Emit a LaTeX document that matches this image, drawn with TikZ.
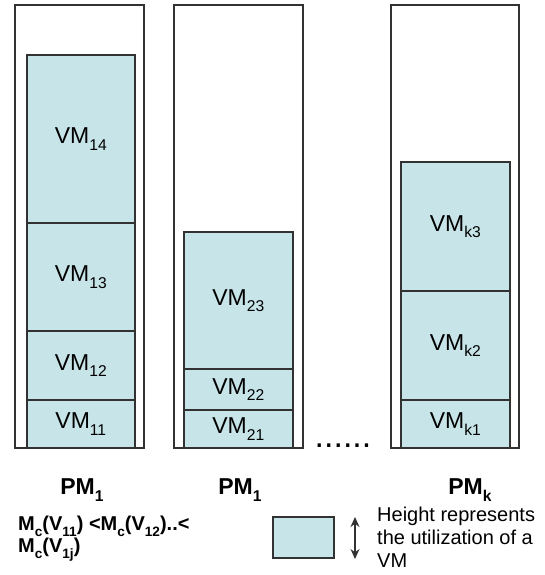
\documentclass[tikz,border=0pt]{standalone}
\usepackage{fontspec}
\setmainfont{Liberation Sans}
\usetikzlibrary{arrows.meta}
\definecolor{vmblue}{RGB}{199,228,232}
\definecolor{edgegray}{RGB}{50,50,50}
\newcommand{\subs}[1]{\raisebox{-0.28em}{\fontsize{0.68em}{0.7em}\selectfont #1}}
\tikzset{pm/.style={draw=edgegray, line width=1.6pt, fill=white, inner sep=0mm, anchor=south west},
         vm/.style={draw=edgegray, line width=1.6pt, fill=vmblue, inner sep=0mm, anchor=south west,
                    font=\fontsize{23}{26}\selectfont},
         pmlabel/.style={font=\fontsize{23}{26}\selectfont\bfseries},
         key/.style={font=\fontsize{20}{23}\selectfont, align=left, anchor=north west, inner sep=0mm}}

\begin{document}
\begin{tikzpicture}[x=1pt, y=-1pt]
    \useasboundingbox (0,0) rectangle (544,575);

    % first machine
    \node (pm1) at (14,449) [pm, minimum width=129pt, minimum height=443pt] {};
    \node (vm14) at (26,224) [vm, minimum width=108pt, minimum height=168pt] {VM\subs{14}};
    \node (vm13) at (26,332) [vm, minimum width=108pt, minimum height=108pt] {VM\subs{13}};
    \node (vm12) at (26,401) [vm, minimum width=108pt, minimum height=69pt] {VM\subs{12}};
    \node (vm11) at (26,449) [vm, minimum width=108pt, minimum height=48pt] {VM\subs{11}};

    % second machine
    \node (pm2) at (173,449) [pm, minimum width=129pt, minimum height=443pt] {};
    \node (vm23) at (183,370) [vm, minimum width=109pt, minimum height=137pt] {VM\subs{23}};
    \node (vm22) at (183,411) [vm, minimum width=109pt, minimum height=41pt] {VM\subs{22}};
    \node (vm21) at (183,449) [vm, minimum width=109pt, minimum height=38pt] {VM\subs{21}};

    % last machine
    \node (pmk) at (390,449) [pm, minimum width=128pt, minimum height=443pt] {};
    \node (vmk3) at (400,292) [vm, minimum width=109pt, minimum height=129pt] {VM\subs{k3}};
    \node (vmk2) at (400,401) [vm, minimum width=109pt, minimum height=109pt] {VM\subs{k2}};
    \node (vmk1) at (400,449) [vm, minimum width=109pt, minimum height=48pt] {VM\subs{k1}};

    \node (dots) at (343,446) [font=\fontsize{34}{36}\selectfont] {......};

    \node (l1) at (82,490) [pmlabel] {PM\subs{1}};
    \node (l2) at (240,490) [pmlabel] {PM\subs{1}};
    \node (lk) at (470,490) [pmlabel] {PM\subs{k}};

    % legend
    \node (order) at (18,516) [key, font=\fontsize{20}{22}\selectfont\bfseries]
        {M\subs{c}(V\subs{11}) <M\subs{c}(V\subs{12})..<\\M\subs{c}(V\subs{1j})};
    \node (box) at (272,559) [vm, minimum width=61pt, minimum height=41pt] {};
    \coordinate (atop) at (355,517);
    \coordinate (abot) at (355,559);
    \draw [{Stealth[length=10pt,width=9pt]}-{Stealth[length=10pt,width=9pt]}, line width=1.4pt, edgegray] (atop) -- (abot);
    \node (expl) at (377,507) [key] {Height represents\\the utilization of a\\VM};
\end{tikzpicture}
\end{document}
